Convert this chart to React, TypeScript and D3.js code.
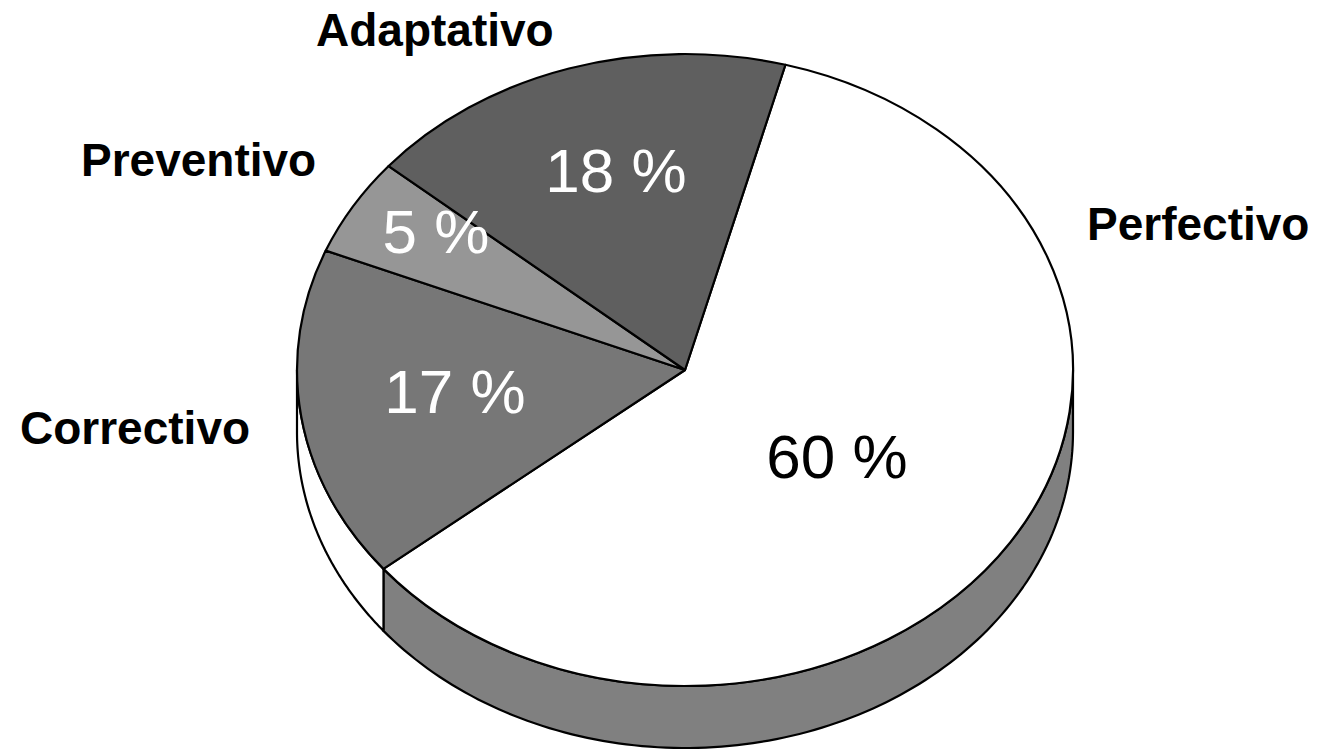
import React, { useEffect } from "react";
import * as d3 from "d3";

const categories = ["Perfectivo", "Correctivo", "Preventivo", "Adaptativo"];
const values = [60, 17, 5, 18];
const valueLabels = ["60 %", "17 %", "5 %", "18 %"];
const topColors = ["#ffffff", "#777777", "#969696", "#5f5f5f"];
const sideColors = ["#808080", "#ffffff", "#808080", "#808080"];
const pctColors = ["#000000", "#ffffff", "#ffffff", "#ffffff"];

const W = 1323;
const H = 750;
const cx = 685;
const cy = 370;
const rx = 388;
const ry = 316;
const depth = 62;
const startDeg = 15;

// label anchor points (text layout)
const pctPos: [number, number][] = [
  [837, 478],
  [455, 413],
  [436, 253],
  [616, 192],
];
const catPos: [number, number][] = [
  [1087, 240],
  [20, 444],
  [81, 176],
  [316, 46],
];

export default function App() {
  useEffect(() => {
    document.body.style.margin = "0";
  }, []);

  const start = (startDeg * Math.PI) / 180;
  const pie = d3
    .pie<number>()
    .sort(null)
    .startAngle(start)
    .endAngle(start + 2 * Math.PI);
  const arcs = pie(values);
  const arc = d3.arc<d3.PieArcDatum<number>>().innerRadius(0).outerRadius(ry);

  const area = d3
    .area<number>()
    .x((a) => ry * Math.sin(a))
    .y0((a) => -ry * Math.cos(a))
    .y1((a) => -ry * Math.cos(a) + depth);

  const lo = Math.PI / 2;
  const hi = (3 * Math.PI) / 2;
  const sides = arcs
    .map((d, i) => {
      const a0 = Math.max(d.startAngle, lo);
      const a1 = Math.min(d.endAngle, hi);
      if (a1 <= a0) return null;
      const n = 120;
      const pts = d3.range(n + 1).map((k) => a0 + ((a1 - a0) * k) / n);
      return { i, path: area(pts) as string };
    })
    .filter(Boolean) as { i: number; path: string }[];

  return (
    <svg
      width={W}
      height={H}
      style={{ display: "block", position: "absolute", left: 0, top: 0, background: "#fff" }}
    >
      <g transform={`translate(${cx},${cy}) scale(${rx / ry},1)`}>
        {sides.map((s) => (
          <path
            key={"s" + s.i}
            d={s.path}
            fill={sideColors[s.i]}
            stroke="#000"
            strokeWidth={2.2}
            strokeLinejoin="round"
            vectorEffect="non-scaling-stroke"
          />
        ))}
        {arcs.map((d, i) => (
          <path
            key={"t" + i}
            d={arc(d) as string}
            fill={topColors[i]}
            stroke="#000"
            strokeWidth={2.2}
            strokeLinejoin="round"
            vectorEffect="non-scaling-stroke"
          />
        ))}
      </g>
      {valueLabels.map((t, i) => (
        <text
          key={"p" + i}
          x={pctPos[i][0]}
          y={pctPos[i][1]}
          textAnchor="middle"
          fontFamily="'Liberation Sans', Arial, sans-serif"
          fontSize={62}
          fill={pctColors[i]}
        >
          {t}
        </text>
      ))}
      {categories.map((t, i) => (
        <text
          key={"c" + i}
          x={catPos[i][0]}
          y={catPos[i][1]}
          fontFamily="'Liberation Sans', Arial, sans-serif"
          fontWeight="bold"
          fontSize={46}
          fill="#000"
        >
          {t}
        </text>
      ))}
    </svg>
  );
}
